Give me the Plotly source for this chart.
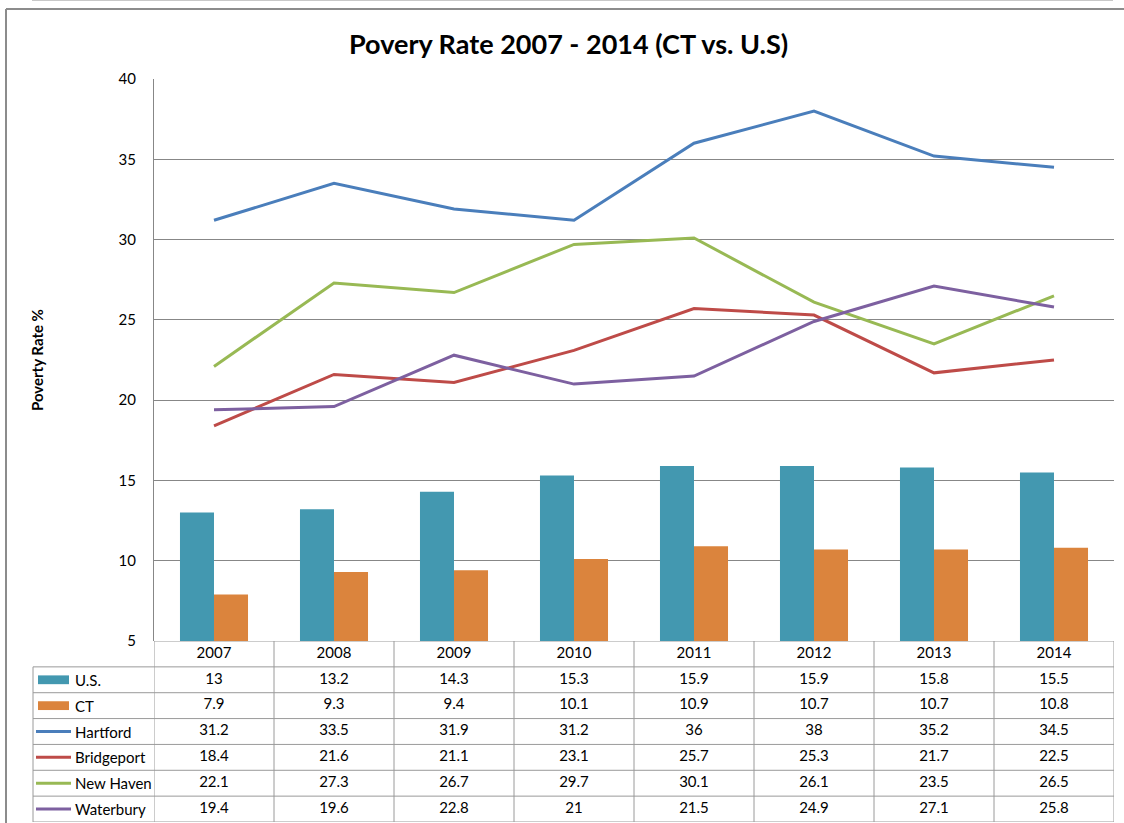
import plotly.graph_objects as go

years = ["2007", "2008", "2009", "2010", "2011", "2012", "2013", "2014"]
us = [13, 13.2, 14.3, 15.3, 15.9, 15.9, 15.8, 15.5]
ct = [7.9, 9.3, 9.4, 10.1, 10.9, 10.7, 10.7, 10.8]
hartford = [31.2, 33.5, 31.9, 31.2, 36, 38, 35.2, 34.5]
bridgeport = [18.4, 21.6, 21.1, 23.1, 25.7, 25.3, 21.7, 22.5]
new_haven = [22.1, 27.3, 26.7, 29.7, 30.1, 26.1, 23.5, 26.5]
waterbury = [19.4, 19.6, 22.8, 21, 21.5, 24.9, 27.1, 25.8]

series_names = ["U.S.", "CT", "Hartford", "Bridgeport", "New Haven", "Waterbury"]
series_vals = [us, ct, hartford, bridgeport, new_haven, waterbury]
series_colors = ["#4398B0", "#DB843D", "#4A7EBB", "#BE4B48", "#98B954", "#7D60A0"]
series_kind = ["bar", "bar", "line", "line", "line", "line"]

W, H = 1124, 823
FONT = "Lato"
GRID = "#878787"
TBL = "#9A9A9A"
TXT = 15


def px(x):
    return x / W


def py(y):
    return 1 - y / H


xpos = list(range(len(years)))

fig = go.Figure()

for name, vals, col, kind in zip(series_names, series_vals, series_colors, series_kind):
    if kind == "bar":
        fig.add_trace(go.Bar(x=xpos, y=vals, name=name, marker=dict(color=col, line=dict(width=0)),
                             showlegend=False))
for name, vals, col, kind in zip(series_names, series_vals, series_colors, series_kind):
    if kind == "line":
        fig.add_trace(go.Scatter(x=xpos, y=vals, name=name, mode="lines",
                                 line=dict(color=col, width=3), showlegend=False))

# table text
fig.add_trace(go.Scatter(x=xpos, y=[0] * len(years), text=years, mode="text",
                         textfont=dict(family=FONT, size=TXT, color="#000"),
                         xaxis="x", yaxis="y2", showlegend=False, hoverinfo="skip"))
for r, vals in enumerate(series_vals, start=1):
    fig.add_trace(go.Scatter(x=xpos, y=[r] * len(vals), text=[f"{v:g}" for v in vals], mode="text",
                             textfont=dict(family=FONT, size=TXT, color="#000"),
                             xaxis="x", yaxis="y2", showlegend=False, hoverinfo="skip"))

shapes = []
# frame lines
shapes.append(dict(type="line", xref="paper", yref="paper", x0=px(32), x1=px(1113), y0=py(0.5), y1=py(0.5),
                   line=dict(color="#C8C8C8", width=1)))
shapes.append(dict(type="line", xref="paper", yref="paper", x0=px(6), x1=1, y0=py(9), y1=py(9),
                   line=dict(color="#8C8C8C", width=2)))
shapes.append(dict(type="line", xref="paper", yref="paper", x0=px(6), x1=px(6), y0=py(9), y1=0,
                   line=dict(color="#8C8C8C", width=2)))

# table lines
n = len(years)
for k in range(n + 1):
    shapes.append(dict(type="line", xref="x", yref="y2", x0=-0.5 + k, x1=-0.5 + k, y0=-0.5, y1=6.5,
                       line=dict(color=TBL, width=1)))
shapes.append(dict(type="line", xref="x", yref="y2", x0=-0.5, x1=n - 0.5, y0=-0.5, y1=-0.5,
                   line=dict(color=TBL, width=1)))
for r in range(7):
    shapes.append(dict(type="line", xref="paper", yref="y2", x0=px(33), x1=px(1114), y0=r + 0.5, y1=r + 0.5,
                       line=dict(color=TBL, width=1)))
shapes.append(dict(type="line", xref="paper", yref="y2", x0=px(33), x1=px(33), y0=0.5, y1=6.5,
                   line=dict(color=TBL, width=1)))

annotations = []
for r, (name, col, kind) in enumerate(zip(series_names, series_colors, series_kind), start=1):
    if kind == "bar":
        shapes.append(dict(type="rect", xref="paper", yref="y2", x0=px(38), x1=px(69),
                           y0=r - 0.17, y1=r + 0.17, fillcolor=col, line=dict(width=0)))
    else:
        shapes.append(dict(type="line", xref="paper", yref="y2", x0=px(36), x1=px(71),
                           y0=r, y1=r, line=dict(color=col, width=3)))
    annotations.append(dict(text=name, xref="paper", yref="y2", x=px(73), y=r, xanchor="left",
                            yanchor="middle", showarrow=False,
                            font=dict(family=FONT, size=TXT, color="#000")))

annotations.append(dict(text="<b>Poverty Rate %</b>", xref="paper", yref="paper", x=px(37), y=py(360),
                        textangle=-90, showarrow=False, xanchor="center", yanchor="middle",
                        font=dict(family=FONT, size=15, color="#000")))
annotations.append(dict(text="<b>Povery Rate 2007 - 2014 (CT vs. U.S)</b>", xref="paper", yref="paper",
                        x=px(568), y=py(43), showarrow=False, xanchor="center", yanchor="middle",
                        font=dict(family=FONT, size=27, color="#000")))

fig.update_layout(
    template="none",
    width=W, height=H,
    margin=dict(l=0, r=0, t=0, b=0, pad=0, autoexpand=False),
    paper_bgcolor="white", plot_bgcolor="white",
    barmode="group", bargap=0.433, bargroupgap=0,
    shapes=shapes, annotations=annotations,
    font=dict(family=FONT),
    xaxis=dict(domain=[px(154), px(1114)], range=[-0.5, n - 0.5], showticklabels=False, automargin=False,
               showgrid=False, zeroline=False, ticks="", showline=False, fixedrange=True),
    yaxis=dict(domain=[py(641), py(79)], range=[5, 40], dtick=5, showgrid=True, gridcolor=GRID,
               gridwidth=1, zeroline=False, showline=True, linecolor=GRID, linewidth=1, automargin=False,
               ticks="", ticklabelstandoff=14, tickfont=dict(family=FONT, size=15, color="#000")),
    yaxis2=dict(domain=[py(822), py(641)], range=[6.5, -0.5], anchor="x", showticklabels=False,
                automargin=False, showgrid=False, zeroline=False, showline=False, ticks=""),
)

fig.write_html("out.html", config={"displayModeBar": False},
               post_script="document.body.style.margin='0px';document.body.style.overflow='hidden';")
